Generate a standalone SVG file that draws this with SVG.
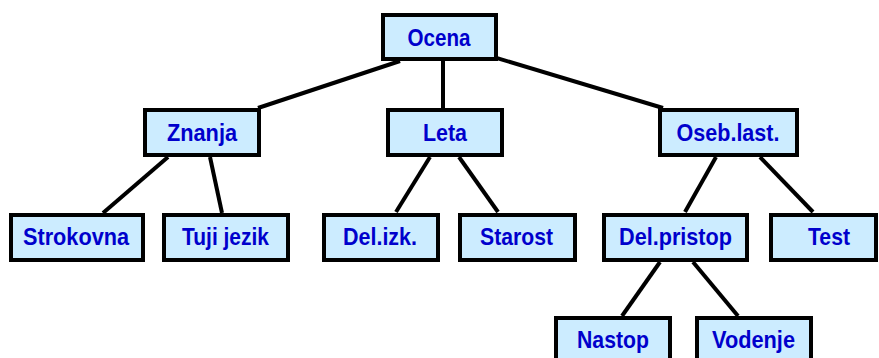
<svg xmlns="http://www.w3.org/2000/svg" width="879" height="358" viewBox="0 0 879 358">
<style>
.box{fill:#CCECFF;stroke:#000;stroke-width:4}
.lbl{font-family:"Liberation Sans Narrow","Liberation Sans",Arial,sans-serif;font-weight:bold;font-size:24px;fill:#0000CC;text-anchor:middle}
.edge{stroke:#000;stroke-width:4;fill:none}
</style>
<rect width="879" height="358" fill="#fff"/>
<g id="connectors">
<line class="edge" x1="400" y1="61" x2="258" y2="108"/>
<line class="edge" x1="443" y1="61" x2="443" y2="108"/>
<line class="edge" x1="470" y1="50" x2="663" y2="108"/>
<line class="edge" x1="168" y1="157" x2="103" y2="213"/>
<line class="edge" x1="210" y1="157" x2="222" y2="213"/>
<line class="edge" x1="430" y1="157" x2="396" y2="212"/>
<line class="edge" x1="459" y1="157" x2="498" y2="212"/>
<line class="edge" x1="716" y1="157" x2="685" y2="212"/>
<line class="edge" x1="760" y1="157" x2="813" y2="212"/>
<line class="edge" x1="660" y1="262" x2="622" y2="316"/>
<line class="edge" x1="693" y1="262" x2="738" y2="316"/>
</g>
<g id="ocena"><rect class="box" x="383" y="15" width="113" height="44"/><text class="lbl" x="439" y="46" textLength="63" lengthAdjust="spacingAndGlyphs">Ocena</text></g>
<g id="znanja"><rect class="box" x="145" y="110" width="114" height="45"/><text class="lbl" x="202" y="141" textLength="70" lengthAdjust="spacingAndGlyphs">Znanja</text></g>
<g id="leta"><rect class="box" x="388" y="110" width="114" height="45"/><text class="lbl" x="445" y="141" textLength="44" lengthAdjust="spacingAndGlyphs">Leta</text></g>
<g id="oseb-last"><rect class="box" x="660" y="110" width="137" height="45"/><text class="lbl" x="728" y="141" textLength="103" lengthAdjust="spacingAndGlyphs">Oseb.last.</text></g>
<g id="strokovna"><rect class="box" x="11" y="215" width="132" height="45"/><text class="lbl" x="76" y="245" textLength="106" lengthAdjust="spacingAndGlyphs">Strokovna</text></g>
<g id="tuji-jezik"><rect class="box" x="164" y="215" width="124" height="45"/><text class="lbl" x="225.5" y="245" textLength="87" lengthAdjust="spacingAndGlyphs">Tuji jezik</text></g>
<g id="del-izk"><rect class="box" x="324" y="215" width="114" height="45"/><text class="lbl" x="380" y="245" textLength="74" lengthAdjust="spacingAndGlyphs">Del.izk.</text></g>
<g id="starost"><rect class="box" x="460" y="215" width="115" height="45"/><text class="lbl" x="516.5" y="245" textLength="73" lengthAdjust="spacingAndGlyphs">Starost</text></g>
<g id="del-pristop"><rect class="box" x="604" y="215" width="143" height="45"/><text class="lbl" x="675.5" y="245" textLength="113" lengthAdjust="spacingAndGlyphs">Del.pristop</text></g>
<g id="test"><rect class="box" x="771" y="215" width="105" height="45"/><text class="lbl" x="829" y="245" textLength="42" lengthAdjust="spacingAndGlyphs">Test</text></g>
<g id="nastop"><rect class="box" x="556" y="318" width="114" height="46"/><text class="lbl" x="613" y="348" textLength="72" lengthAdjust="spacingAndGlyphs">Nastop</text></g>
<g id="vodenje"><rect class="box" x="697" y="318" width="114" height="46"/><text class="lbl" x="753.5" y="348" textLength="83" lengthAdjust="spacingAndGlyphs">Vodenje</text></g>
</svg>
